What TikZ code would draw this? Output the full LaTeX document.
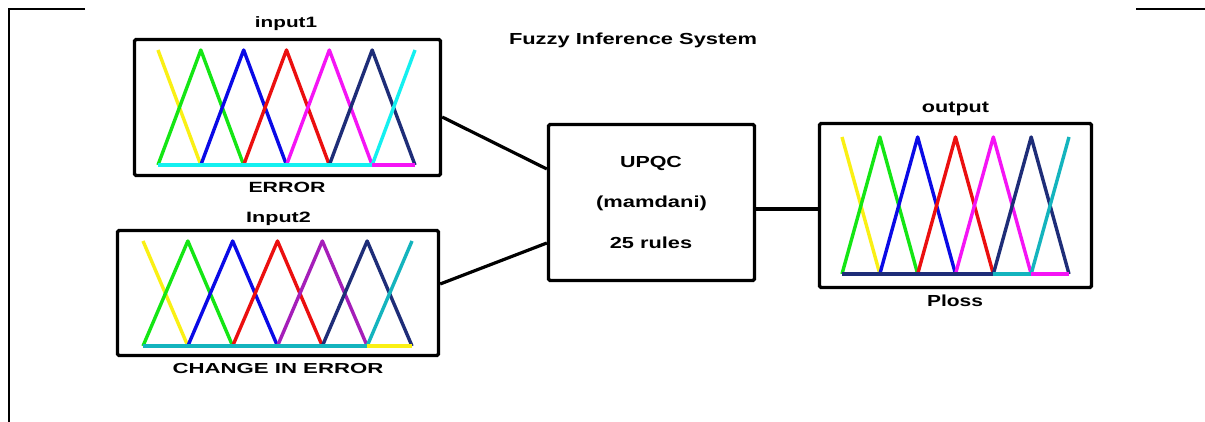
\documentclass[tikz,border=0pt]{standalone}
\usepackage{graphicx}
\usepackage{fontspec}
\setmainfont{Liberation Sans}
\usetikzlibrary{calc}

\definecolor{mfyellow}{RGB}{250,240,20}
\definecolor{mfgreen}{RGB}{20,230,20}
\definecolor{mfblue}{RGB}{10,10,230}
\definecolor{mfred}{RGB}{235,15,15}
\definecolor{mfmagenta}{RGB}{245,20,245}
\definecolor{mfnavy}{RGB}{30,45,120}
\definecolor{mfcyan}{RGB}{20,240,240}
\definecolor{mfteal}{RGB}{20,180,190}
\definecolor{mfpurple}{RGB}{165,30,185}

% bold label, font size #1, horizontal stretch #2
\newcommand\lbl[3]{\scalebox{#2}[1]{\fontsize{#1}{#1}\selectfont\bfseries #3}}

% seven triangular membership functions between x = #1 and x = #2,
% peak row #3, base row #4, colours #5
\newcommand\mfset[5]{%
  \pgfmathsetmacro\mfd{(#2-#1)/6}%
  \foreach \c [count=\i from 0] in {#5} {
    \pgfmathsetmacro\mfxa{#1+(\i-1)*\mfd}
    \pgfmathsetmacro\mfxb{#1+\i*\mfd}
    \pgfmathsetmacro\mfxc{#1+(\i+1)*\mfd}
    \ifnum\i=0
      \draw[mf,color=\c] (\mfxb,#3) -- (\mfxc,#4);
    \else\ifnum\i=6
      \draw[mf,color=\c] (\mfxa,#4) -- (\mfxb,#3);
    \else
      \draw[mf,color=\c] (\mfxa,#4) -- (\mfxb,#3) -- (\mfxc,#4);
    \fi\fi
  }%
}

\begin{document}
\begin{tikzpicture}[x=1pt,y=-1pt,
  box/.style={draw=black,line width=3.3pt,rounded corners=1.5pt,inner sep=0pt,fill=white},
  wire/.style={draw=black,line width=3.2pt},
  frameline/.style={draw=black,line width=2pt},
  mf/.style={line width=3.4pt,line join=round},
  txt/.style={anchor=base,inner sep=0pt}]

\useasboundingbox[fill=white] (0,0) rectangle (1205,422);

% outer frame fragments
\draw[frameline] (85,9) -- (9,9) -- (9,422);
\draw[frameline,line width=2.3pt] (1136,9) -- (1205,9);

% boxes
\node[box,minimum width=306pt,minimum height=136pt] (in1) at (287.5,107.5) {};
\node[box,minimum width=321pt,minimum height=125pt] (in2) at (278,293) {};
\node[box,minimum width=206pt,minimum height=156pt] (fis) at (651.5,202.5) {};
\node[box,minimum width=272pt,minimum height=164pt] (out) at (955.5,205.5) {};

% membership functions
\mfset{158}{415}{50}{165}{mfyellow,mfgreen,mfblue,mfred,mfmagenta,mfnavy,mfcyan}
\draw[mf,mfcyan] (158,165) -- (372.2,165);
\draw[mf,mfmagenta] (372.2,165) -- (415,165);

\mfset{143}{412}{241}{346}{mfyellow,mfgreen,mfblue,mfred,mfpurple,mfnavy,mfteal}
\draw[mf,mfteal] (143,346) -- (367.2,346);
\draw[mf,mfyellow] (367.2,346) -- (412,346);

\mfset{842}{1069}{137}{274}{mfyellow,mfgreen,mfblue,mfred,mfmagenta,mfnavy,mfteal}
\draw[mf,mfnavy] (842,274) -- (993.3,274);
\draw[mf,mfteal] (993.3,274) -- (1031.2,274);
\draw[mf,mfmagenta] (1031.2,274) -- (1069,274);

% connectors
\draw[wire] ([yshift=-9.5pt]in1.east) -- ([yshift=33.5pt]fis.west);
\draw[wire] ([yshift=9pt]in2.east) -- ([yshift=-40.5pt]fis.west);
\draw[wire] ([yshift=-6.5pt]fis.east) coordinate (fo) -- (fo -| out.west);

% labels
\node[txt] (t1) at (286,28) {\lbl{15}{1.38}{input1}};
\node[txt] (t1b) at (287,193) {\lbl{14.8}{1.44}{ERROR}};
\node[txt] (t2) at (278.5,223) {\lbl{15}{1.44}{Input2}};
\node[txt] (t2b) at (278,373) {\lbl{14.5}{1.53}{CHANGE IN ERROR}};
\node[txt] (t3) at (955.5,113) {\lbl{16}{1.35}{output}};
\node[txt] (t3b) at (955,306) {\lbl{16}{1.31}{Ploss}};
\node[txt] (tt) at (633,45) {\lbl{16}{1.367}{Fuzzy Inference System}};
\node[txt] (f1) at (651,168) {\lbl{16}{1.34}{UPQC}};
\node[txt] (f2) at (651.5,208) {\lbl{16}{1.37}{(mamdani)}};
\node[txt] (f3) at (651,248) {\lbl{16}{1.36}{25 rules}};
\end{tikzpicture}
\end{document}
